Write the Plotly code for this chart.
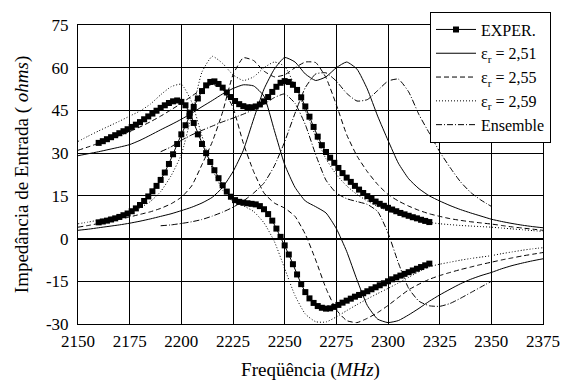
import plotly.graph_objects as go

# ---------------- data ----------------
freq_exp = list(range(2160, 2321, 2))
r_exp = [5.7, 6.0, 6.3, 6.7, 7.1, 7.6, 8.2, 8.8, 9.6, 10.6,
         11.8, 13.2, 14.8, 16.6, 18.5, 20.6, 23.2, 26.2, 29.6, 33.2,
         36.6, 39.8, 43.0, 46.2, 49.2, 51.8, 53.8, 55.0, 55.2, 54.3,
         53.0, 51.3, 49.7, 48.3, 47.2, 46.5, 46.1, 46.1, 46.4, 47.1,
         48.2, 49.7, 51.5, 53.3, 54.7, 55.3, 55.0, 54.0, 52.2, 49.6,
         46.4, 42.8, 39.2, 35.8, 32.8, 30.4, 28.4, 26.6, 24.8, 23.0,
         21.4, 19.9, 18.5, 17.2, 16.0, 14.9, 13.9, 13.0, 12.2, 11.5,
         10.8, 10.2, 9.6, 9.0, 8.5, 8.0, 7.5, 7.1, 6.6, 6.2, 5.8]
x_exp = [33.6, 34.2, 34.9, 35.6, 36.3, 37.0, 37.7, 38.4, 39.2, 40.0,
         40.9, 41.9, 42.9, 43.9, 44.9, 45.9, 46.8, 47.6, 48.2, 48.5,
         48.0, 46.8, 44.2, 40.6, 36.6, 33.2, 30.0, 26.9, 24.0, 21.2,
         18.7, 16.5, 14.7, 13.5, 12.9, 12.6, 12.4, 12.2, 12.0, 11.4,
         10.3, 8.6, 6.3, 3.5, 0.6, -2.4, -5.6, -9.0, -12.6, -16.0,
         -18.8, -21.0, -22.6, -23.7, -24.3, -24.6, -24.5, -24.0, -23.3, -22.5,
         -21.8, -21.1, -20.4, -19.8, -19.2, -18.5, -17.8, -17.1, -16.4, -15.7,
         -15.0, -14.3, -13.6, -13.0, -12.4, -11.8, -11.2, -10.6, -10.0, -9.4, -8.8]

freq_sim = list(range(2150, 2376, 5))
r_251 = [2.9, 3.3, 3.8, 4.3, 4.8, 5.4, 6.1, 6.9, 7.8, 8.7,
         9.8, 11.0, 12.5, 14.5, 18.0, 23.5, 31.0, 42.0, 52.5, 59.5,
         63.6, 62.0, 57.8, 55.5, 56.8, 60.0, 62.0, 59.5, 52.5, 43.0,
         34.5, 26.5, 21.0, 17.5, 15.0, 13.2, 11.6, 10.2, 9.0, 7.9,
         6.8, 6.0, 5.3, 4.7, 4.2, 3.8]
x_251 = [29.1, 29.8, 30.5, 31.3, 32.1, 33.0, 34.5, 36.3, 38.2, 40.0,
         41.9, 44.0, 46.3, 48.5, 50.8, 52.7, 54.0, 53.6, 50.0, 38.0,
         26.0, 18.0, 13.2, 11.2, 9.0, 3.5, -4.5, -14.5, -23.5, -28.3,
         -29.5, -28.8, -26.8, -24.5, -22.0, -19.8, -17.8, -15.9, -14.3, -13.0,
         -11.9, -10.6, -9.5, -8.6, -7.8, -7.1]
r_255 = [4.0, 4.6, 5.3, 6.0, 6.8, 7.6, 8.5, 9.4, 10.6, 12.2,
         14.5, 18.5, 26.0, 34.0, 44.5, 57.5, 63.5, 62.5, 58.8, 56.8,
         57.5, 60.0, 62.0, 61.8, 56.5, 47.0, 36.5, 29.0, 23.5, 19.0,
         15.5, 13.2, 11.4, 9.9, 8.7, 7.8, 7.0, 6.4, 5.9, 5.5,
         5.1, 4.6, 4.1, 3.7, 3.3, 2.9]
x_255 = [31.0, 32.2, 33.5, 34.8, 36.2, 37.6, 39.2, 41.0, 43.0, 45.2,
         47.5, 50.0, 52.5, 54.2, 52.5, 46.0, 33.5, 23.5, 16.0, 12.5,
         10.7, 7.8, 1.5, -7.5, -17.5, -25.0, -28.8, -29.5, -28.0, -26.0,
         -23.5, -20.7, -18.0, -16.0, -14.3, -13.0, -11.9, -10.9, -10.0, -9.1,
         -8.3, -7.5, -6.8, -6.1, -5.5, -4.9]
r_259 = [5.2, 5.8, 6.5, 7.3, 8.2, 9.3, 10.8, 13.0, 16.5, 22.0,
         29.5, 43.5, 58.5, 64.0, 61.5, 57.5, 55.5, 56.8, 60.0, 62.0,
         60.5, 53.5, 45.0, 36.0, 28.0, 22.5, 18.5, 15.5, 13.2, 11.3,
         9.8, 8.5, 7.4, 6.5, 5.7, 5.2, 4.9, 4.6, 4.4, 4.2,
         4.0, 3.7, 3.4, 3.1, 2.8, 2.5]
x_259 = [34.1, 36.0, 37.8, 39.5, 41.2, 43.0, 44.8, 47.2, 50.5, 53.3,
         54.2, 48.0, 36.0, 24.5, 17.0, 13.0, 11.5, 9.5, 5.5, -1.0,
         -10.5, -20.0, -26.5, -29.2, -29.3, -27.5, -25.3, -23.2, -21.2, -19.3,
         -17.5, -15.6, -13.6, -11.6, -9.9, -9.0, -8.3, -7.6, -7.0, -6.5,
         -6.0, -5.3, -4.7, -4.1, -3.6, -3.2]

freq_ens = list(range(2190, 2351, 5))
r_ens = [4.5, 4.8, 5.3, 5.9, 6.7, 7.9, 9.3, 11.0, 13.2, 16.0,
         19.5, 25.5, 34.0, 44.0, 53.0, 57.8, 58.2, 55.3, 51.0, 48.3,
         48.8, 52.0, 55.3, 56.0, 51.5, 43.5, 37.0, 30.5, 25.0, 20.0,
         16.2, 13.5, 11.3]
x_ens = [30.5, 32.2, 34.5, 36.4, 38.0, 39.5, 41.0, 42.3, 43.7, 45.3,
         47.2, 49.5, 50.8, 47.5, 40.0, 29.5, 20.5, 16.0, 14.0, 13.0,
         12.0, 9.5, 2.0, -8.5, -17.5, -22.0, -23.6, -23.8, -22.8, -21.0,
         -19.0, -17.0, -15.0]

x_ticks = list(range(2150, 2376, 25))
y_ticks = list(range(-30, 76, 15))

FONT = "Times New Roman"

fig = go.Figure()

sims = [
    ("ε<sub>r</sub> = 2,51", freq_sim, r_251, x_251, "solid", 2),
    ("ε<sub>r</sub> = 2,55", freq_sim, r_255, x_255, "5px,3px", 3),
    ("ε<sub>r</sub> = 2,59", freq_sim, r_259, x_259, "1px,2px", 4),
    ("Ensemble", freq_ens, r_ens, x_ens, "6px,2px,1px,2px", 5),
]
for name, fx, rr, xx, dash, rank in sims:
    for i, yy in enumerate((rr, xx)):
        fig.add_trace(go.Scatter(
            x=fx, y=yy, mode="lines", name=name, legendgroup=name,
            showlegend=(i == 0), legendrank=rank,
            line=dict(color="black", width=1, dash=dash, shape="spline", smoothing=0.5),
        ))

for i, yy in enumerate((r_exp, x_exp)):
    fig.add_trace(go.Scatter(
        x=freq_exp, y=yy, mode="lines+markers", name="EXPER.", legendgroup="exp",
        showlegend=(i == 0), legendrank=1,
        line=dict(color="black", width=1),
        marker=dict(symbol="square", size=6, color="black"),
    ))

fig.update_layout(
    width=572, height=389,
    margin=dict(l=78, r=23, t=14, b=61),
    paper_bgcolor="white", plot_bgcolor="white",
    font=dict(family=FONT, size=17, color="black"),
    showlegend=True,
    legend=dict(
        x=0.757, y=1.045, xanchor="left", yanchor="top",
        bgcolor="white", bordercolor="black", borderwidth=1,
        font=dict(family=FONT, size=16, color="black"),
        itemwidth=40, tracegroupgap=0,
    ),
    xaxis=dict(
        range=[2150, 2375], tickvals=x_ticks, ticktext=[str(v) for v in x_ticks],
        showgrid=True, gridcolor="black", gridwidth=1,
        showline=True, linecolor="black", linewidth=1, mirror=True,
        zeroline=False, ticks="", ticklabelstandoff=2,
        tickfont=dict(family=FONT, size=17, color="black"),
        title=dict(text="Freqüência (<i>MHz</i>)", font=dict(family=FONT, size=19, color="black"), standoff=12),
    ),
    yaxis=dict(
        range=[-30, 75], tickvals=y_ticks, ticktext=[str(v) for v in y_ticks],
        showgrid=True, gridcolor="black", gridwidth=1,
        showline=True, linecolor="black", linewidth=1, mirror=True,
        zeroline=True, zerolinecolor="black", zerolinewidth=2,
        ticks="", ticklabelstandoff=5,
        tickfont=dict(family=FONT, size=17, color="black"),
        title=dict(text="Impedância de Entrada ( <i>ohms</i>)", font=dict(family=FONT, size=19, color="black"), standoff=12),
    ),
)

fig.write_html("out.html")
